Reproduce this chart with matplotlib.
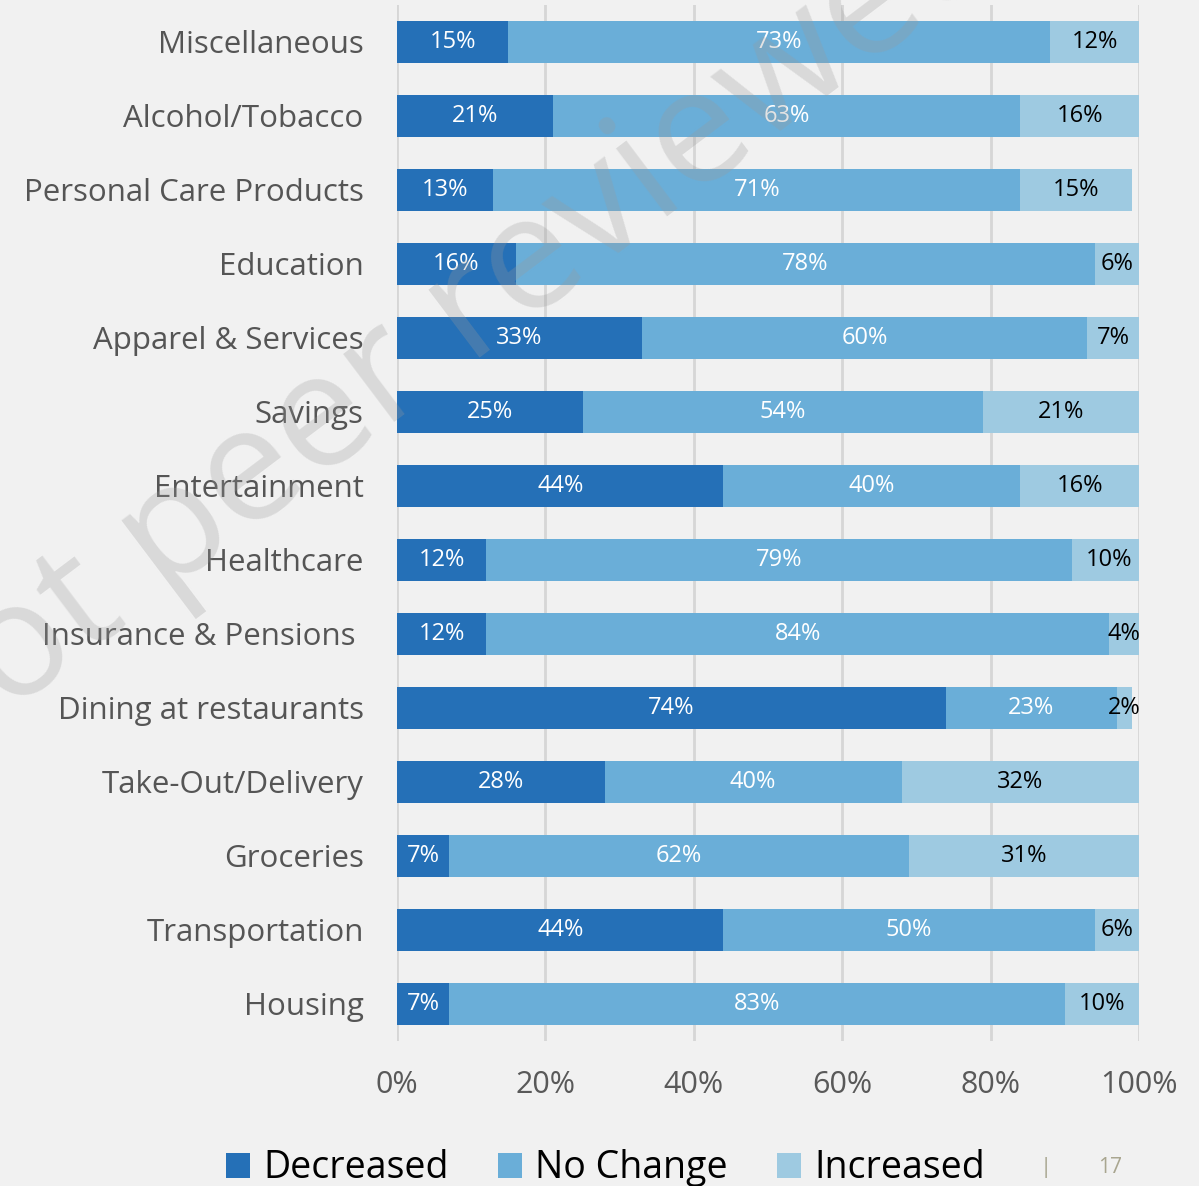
import numpy as np
import matplotlib.pyplot as plt
from matplotlib.patches import Patch

plt.rcParams['font.family'] = ['Open Sans', 'DejaVu Sans']

# Data
categories = ['Miscellaneous', 'Alcohol/Tobacco', 'Personal Care Products', 'Education',
              'Apparel & Services', 'Savings', 'Entertainment', 'Healthcare',
              'Insurance & Pensions ', 'Dining at restaurants', 'Take-Out/Delivery',
              'Groceries', 'Transportation', 'Housing']
decreased = [15, 21, 13, 16, 33, 25, 44, 12, 12, 74, 28, 7, 44, 7]
no_change = [73, 63, 71, 78, 60, 54, 40, 79, 84, 23, 40, 62, 50, 83]
increased = [12, 16, 15, 6, 7, 21, 16, 10, 4, 2, 32, 31, 6, 10]
series_names = ['Decreased', 'No Change', 'Increased']
colors = ['#2570b7', '#6aaed8', '#9ecae1']
text_colors = ['white', 'white', 'black']
x_ticks = [0, 20, 40, 60, 80, 100]

bg = '#f1f1f1'
fig = plt.figure(figsize=(11.99, 11.86), dpi=100, facecolor=bg)
ax = fig.add_axes([0.3311, 0.1223, 0.6189, 0.8735])
ax.set_facecolor(bg)

y = np.arange(len(categories))
left = np.zeros(len(categories))
for vals, col, tc in zip([decreased, no_change, increased], colors, text_colors):
    vals = np.array(vals, dtype=float)
    ax.barh(y, vals, left=left, height=0.57, color=col, zorder=3)
    for yi, l, v in zip(y, left, vals):
        ax.text(l + v / 2, yi, f'{int(v)}%', ha='center', va='center',
                color=tc, fontsize=17, zorder=4)
    left += vals

ax.set_xlim(0, 100)
ax.set_ylim(len(categories) - 0.5, -0.5)
ax.set_yticks(y)
ax.set_yticklabels(categories, fontsize=22.5, color='#555555', va='center_baseline')
ax.set_xticks(x_ticks)
ax.set_xticklabels([f'{t}%' for t in x_ticks], fontsize=22, color='#595959')
ax.tick_params(axis='y', length=0, pad=24)
ax.tick_params(axis='x', length=0, pad=21)
ax.grid(axis='x', color='#d6d6d6', linewidth=2, zorder=0)
for s in ax.spines.values():
    s.set_visible(False)

# legend along the bottom
handles = [Patch(facecolor=c, edgecolor='none') for c in colors]
fig.legend(handles, series_names, loc='center', bbox_to_anchor=(0.505, 0.015),
           ncol=3, frameon=False, fontsize=27, handlelength=0.65, handleheight=0.65,
           handletextpad=0.35, columnspacing=1.3)

# page number
fig.text(0.872, 0.016, '|', fontsize=16, color='#a9a690', ha='center', va='center')
fig.text(0.926, 0.016, '17', fontsize=15, color='#a9a690', ha='center', va='center')

# faint diagonal watermark
fig.text(0.37, 0.72, 'not peer reviewed', fontsize=115, color='#9a9a9a', alpha=0.28,
         rotation=37, ha='center', va='center', zorder=10)

fig.savefig('out.png', dpi=100, facecolor=bg)
